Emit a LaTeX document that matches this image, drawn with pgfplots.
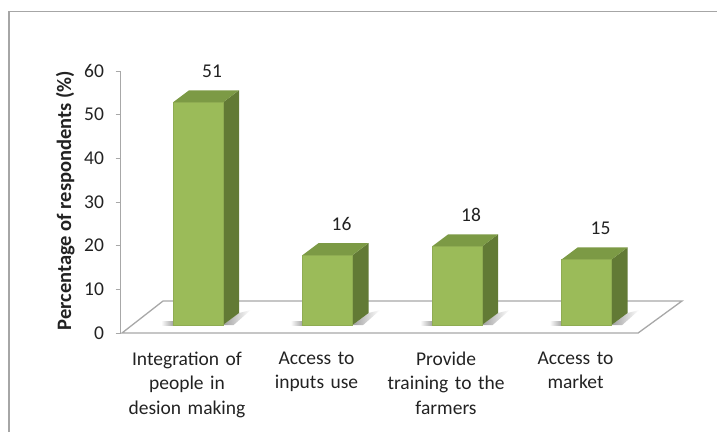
\documentclass[border=0pt]{standalone}
\usepackage{pgfplots}
\pgfplotsset{compat=1.18}
\usepackage{fontspec}
\setmainfont{Carlito}
\definecolor{barfront}{HTML}{9BBB59}
\definecolor{bartop}{HTML}{7C9A45}
\definecolor{barside}{HTML}{627A35}
\definecolor{framegray}{HTML}{A6A6A6}
\definecolor{axisgray}{HTML}{A8A8A8}
\definecolor{txt}{HTML}{222222}
\newcommand{\faces}[2]{%
  \pgfmathsetmacro{\xl}{#1-0.108}%
  \pgfmathsetmacro{\xr}{#1+0.278}%
  \pgfmathsetmacro{\xb}{#1+0.4016}%
  \pgfmathsetmacro{\xc}{#1+0.0156}%
  \pgfmathsetmacro{\yt}{#2+2.75}%
  \addplot[draw=none,fill=barside] coordinates {(\xr,0) (\xb,2.75) (\xb,\yt) (\xr,#2)} --cycle;
  \addplot[draw=none,fill=bartop] coordinates {(\xl,#2) (\xr,#2) (\xb,\yt) (\xc,\yt)} --cycle;
}
\newcommand{\shadow}[1]{%
  \pgfmathsetmacro{\sa}{#1-0.20}%
  \pgfmathsetmacro{\sab}{#1-0.108}%
  \pgfmathsetmacro{\sb}{#1+0.278}%
  \pgfmathsetmacro{\sbb}{#1+0.36}%
  \pgfmathsetmacro{\sc}{#1+0.4016}%
  \pgfmathsetmacro{\sd}{#1+0.49}%
  \addplot[draw=none,left color=gray!75,right color=white] coordinates {(\sb,0) (\sc,2.75) (\sd,3.4) (\sbb,0)} --cycle;
  \addplot[draw=none,left color=white,right color=gray!70] coordinates {(\sa,0) (\sab,0) (\sab,0.85) (\sa,0.85)} --cycle;
}
\begin{document}
\begin{tikzpicture}[x=1bp,y=1bp]
\path[use as bounding box] (0,0) rectangle (717,432);
\draw[framegray,line width=1.2bp] (9,0) -- (9,420.5) -- (717,420.5);
\begin{axis}[
  at={(120.5bp,99bp)},anchor=south west,
  scale only axis,width=579.5bp,height=262bp,
  xmin=-0.5135,xmax=3.961,ymin=-1.832,ymax=58.168,
  clip=false,
  axis x line*=bottom,axis y line*=left,
  x axis line style={draw=none},
  y axis line style={axisgray,line width=1.2bp,-},
  xtick={0,1,2,3},
  xticklabels={Integration of\\people in\\desion making,Access to\\inputs use,Provide\\training to the\\farmers,Access to\\market},
  xtick style={draw=none},
  xticklabel style={align=center,text width=130bp,anchor=north,yshift=-10bp,
    font=\fontsize{19.5bp}{24.5bp}\selectfont,text=txt},
  ytick={-1.832,8.168,18.168,28.168,38.168,48.168,58.168},
  yticklabels={0,10,20,30,40,50,60},
  ytick style={axisgray,line width=1bp},
  tick align=outside,
  major tick length=5bp,
  yticklabel style={font=\fontsize{19.5bp}{21bp}\selectfont,text=txt,xshift=-8bp},
  /pgf/number format/assume math mode=true,
  ylabel={\textbf{Percentage of respondents (\%)}},
  ylabel style={font=\fontsize{20.5bp}{22bp}\selectfont,text=txt,at={(axis cs:-0.94,28.5)},anchor=center,rotate=0},
  bar width=50bp,
  every node near coord/.append style={font=\fontsize{19.5bp}{21bp}\selectfont,text=txt,anchor=center,xshift=25bp,yshift=31bp},
]
% floor
\addplot[draw=axisgray,line width=1.3bp,fill=white] coordinates {(-0.502,-1.832) (3.483,-1.832) (3.822,5.5) (-0.185,5.5)} --cycle;
\shadow{0}\shadow{1}\shadow{2}\shadow{3}
\faces{0}{51}\faces{1}{16}\faces{2}{18}\faces{3}{15}
% front faces with value labels
\addplot[ybar,bar shift=11bp,draw=barfront!92!black,line width=0.5bp,fill=barfront,
  nodes near coords,point meta=y] coordinates {(0,51) (1,16) (2,18) (3,15)};
\end{axis}
\end{tikzpicture}
\end{document}
